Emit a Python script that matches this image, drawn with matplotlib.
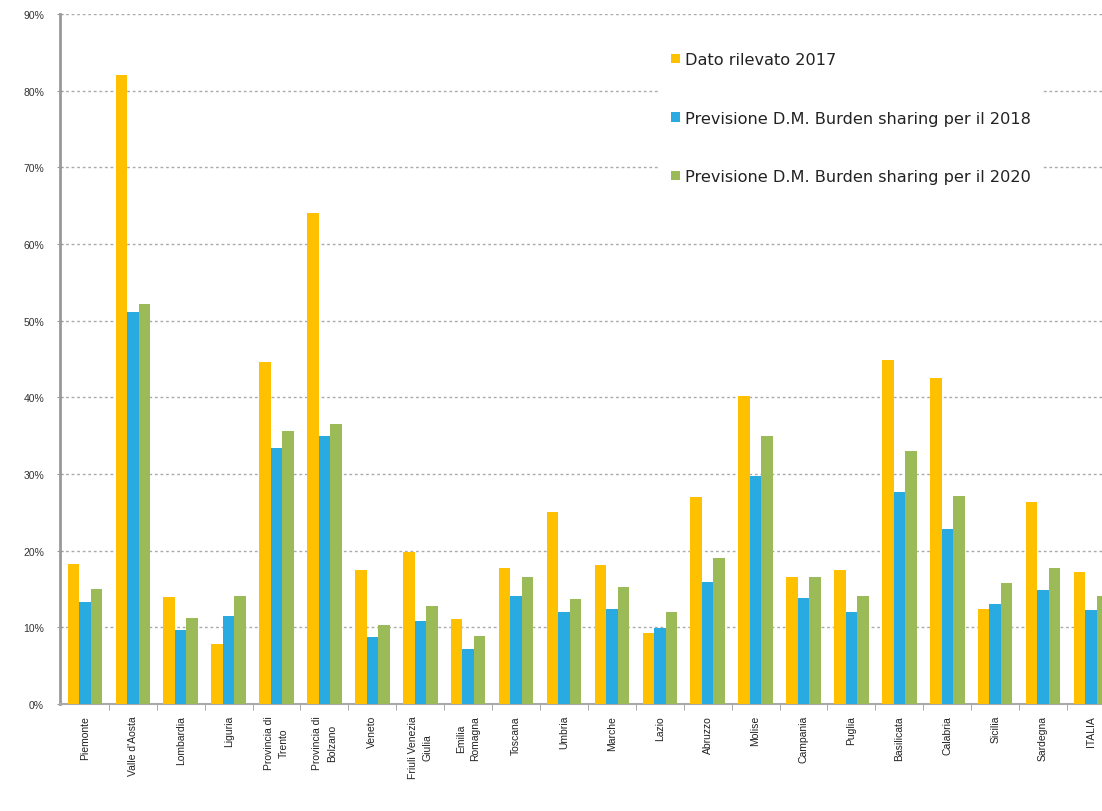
"""Quota FER per regione: dato 2017 vs previsioni Burden sharing 2018/2020."""

import numpy as np
import matplotlib.pyplot as plt

plt.rcParams["font.family"] = ["Liberation Sans", "DejaVu Sans"]

regioni = [
    "Piemonte", "Valle d'Aosta", "Lombardia", "Liguria",
    "Provincia di\nTrento", "Provincia di\nBolzano", "Veneto",
    "Friuli Venezia\nGiulia", "Emilia\nRomagna", "Toscana", "Umbria",
    "Marche", "Lazio", "Abruzzo", "Molise", "Campania", "Puglia",
    "Basilicata", "Calabria", "Sicilia", "Sardegna", "ITALIA",
]

# valori (in %)
dato_2017 = [18.3, 82.1, 14.0, 7.8, 44.6, 64.1, 17.5, 19.8, 11.1, 17.7, 25.1,
             18.1, 9.3, 27.0, 40.2, 16.6, 17.5, 44.9, 42.5, 12.4, 26.3, 17.2]
prev_2018 = [13.3, 51.1, 9.6, 11.5, 33.4, 34.9, 8.7, 10.8, 7.2, 14.1, 12.0,
             12.4, 9.9, 15.9, 29.8, 13.8, 12.0, 27.7, 22.8, 13.0, 14.9, 12.2]
prev_2020 = [15.0, 52.2, 11.2, 14.1, 35.6, 36.5, 10.3, 12.8, 8.9, 16.6, 13.7,
             15.3, 12.0, 19.0, 34.9, 16.6, 14.1, 33.0, 27.1, 15.8, 17.7, 14.1]

serie = [
    ("Dato rilevato 2017", dato_2017, "#FFC000"),
    ("Previsione D.M. Burden sharing per il 2018", prev_2018, "#29ABE2"),
    ("Previsione D.M. Burden sharing per il 2020", prev_2020, "#9BBB59"),
]

fig = plt.figure(figsize=(11.02, 8.12), dpi=100)
ax = fig.add_axes([60 / 1102, 1 - 705 / 812, 1 - 60 / 1102, 690 / 812])

x = np.arange(len(regioni))
w = 0.24
for i, (nome, vals, col) in enumerate(serie):
    ax.bar(x + (i - 1) * w, np.array(vals) / 100, width=w, color=col,
           label=nome, zorder=3)

ax.set_xlim(-0.52, 21.23)
ax.set_ylim(0, 0.9)
yt = np.arange(0, 0.91, 0.1)
ax.set_yticks(yt)
ax.set_yticklabels([f"{int(round(v * 100))}%" for v in yt],
                   fontsize=7.5, color="#333333")
ax.grid(axis="y", linestyle=(0, (2, 2)), color="#aaaaaa", linewidth=1.0, zorder=0)

# tick tra i gruppi
ax.set_xticks(x[:-1] + 0.5, minor=True)
ax.set_xticks(x)
ax.set_xticklabels(regioni, rotation=90, fontsize=7.5, va="top", ha="center",
                   color="#222222", linespacing=1.6)
ax.tick_params(axis="x", which="major", length=0, pad=8)
ax.tick_params(axis="x", which="minor", length=4, color="#999999")
ax.tick_params(axis="y", length=5, color="#999999", pad=9, direction="inout")

for s in ["top", "right"]:
    ax.spines[s].set_visible(False)
ax.spines["left"].set_color("#999999")
ax.spines["left"].set_linewidth(2)
ax.spines["bottom"].set_color("#aaaaaa")
ax.spines["bottom"].set_linewidth(1.5)

leg = ax.legend(loc="upper left", bbox_to_anchor=(652 / 1102, 1 - 34 / 812),
                bbox_transform=fig.transFigure, frameon=True,
                prop={"family": "DejaVu Sans", "size": 11.6},
                labelspacing=2.7, handlelength=0.55, handleheight=0.55,
                handletextpad=0.3, borderpad=0.7, fancybox=False)
leg.get_frame().set_edgecolor("white")
leg.get_frame().set_facecolor("white")
leg.get_frame().set_alpha(1)
for t in leg.get_texts():
    t.set_color("#222222")
leg.set_zorder(5)

fig.savefig("out.png", dpi=100)
